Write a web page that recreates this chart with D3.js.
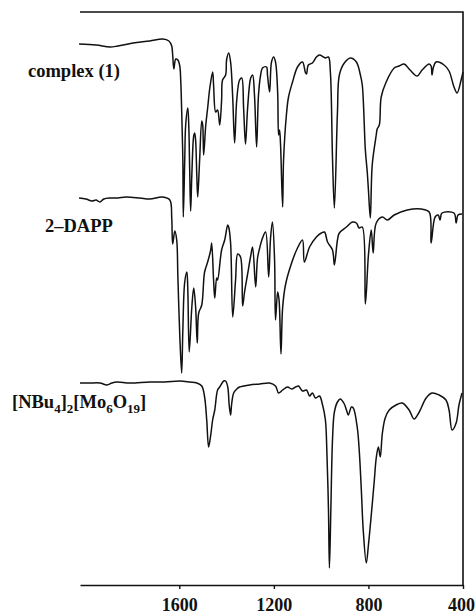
<!DOCTYPE html>
<html>
<head>
<meta charset="utf-8">
<script src="https://cdn.jsdelivr.net/npm/d3@7"></script>
<style>
  body { margin: 0; background: #fff; }
  svg { display: block; }
</style>
</head>
<body>
<svg id="svg"></svg>
<script>
const W = 476, H = 615;

// [wavenumber cm-1, trace height above the bottom axis (arb. units)]
const complexPts = [
  [2024,541],[1952,540],[1893,538],[1860,539],[1796,542],[1725,544],[1670,546],[1644,544],
  [1632,539],[1628,530],[1623,516],[1615,526],[1606,525],[1598,519],[1594,505],[1590,475],
  [1585,425],[1583,368],[1577,425],[1573,460],[1564,477],[1560,460],[1556,415],[1552,374],
  [1547,410],[1539,449],[1535,452],[1531,445],[1526,410],[1522,388],[1514,425],[1505,464],
  [1501,460],[1497,430],[1488,460],[1480,477],[1471,497],[1459,513],[1455,500],[1446,473],
  [1438,475],[1429,460],[1421,485],[1417,505],[1404,510],[1400,525],[1391,532],[1383,523],
  [1374,487],[1366,442],[1357,485],[1345,505],[1336,507],[1328,477],[1320,441],[1311,477],
  [1298,507],[1290,510],[1282,490],[1273,438],[1265,490],[1256,510],[1248,517],[1231,518],
  [1227,510],[1218,493],[1210,523],[1201,528],[1193,523],[1184,493],[1180,450],[1176,455],
  [1172,442],[1163,378],[1159,425],[1147,470],[1138,488],[1121,503],[1100,518],[1079,523],
  [1066,512],[1062,511],[1054,520],[1037,522],[1020,528],[1007,530],[990,528],[982,527],
  [969,528],[961,513],[952,427],[944,377],[931,473],[923,510],[902,522],[876,527],
  [851,523],[834,510],[826,500],[813,435],[805,413],[800,395],[792,367],[784,420],
  [767,450],[763,456],[754,460],[746,488],[725,503],[691,517],[670,519],[649,521],
  [624,515],[594,509],[573,515],[543,521],[535,519],[531,510],[526,517],[514,523],
  [480,520],[459,514],[438,498],[425,492],[408,505],[400,513]
];

const dappPts = [
  [2024,387],[1995,386],[1969,384],[1952,385],[1936,383],[1919,386],[1893,387],[1860,387],
  [1826,388],[1767,387],[1725,386],[1670,388],[1640,385],[1632,367],[1628,341],[1619,354],
  [1611,345],[1606,308],[1598,250],[1590,212],[1585,255],[1577,303],[1568,313],[1564,295],
  [1558,233],[1547,278],[1539,297],[1531,278],[1524,242],[1518,272],[1505,280],[1493,313],
  [1480,323],[1467,335],[1463,342],[1455,305],[1450,287],[1442,307],[1438,305],[1421,335],
  [1408,345],[1395,360],[1391,358],[1383,342],[1374,268],[1362,305],[1353,331],[1341,328],
  [1332,279],[1324,293],[1311,311],[1298,329],[1290,338],[1277,298],[1269,327],[1260,337],
  [1248,347],[1235,353],[1222,308],[1214,347],[1206,363],[1197,325],[1193,265],[1184,293],
  [1178,285],[1170,231],[1163,277],[1151,300],[1125,322],[1100,337],[1079,345],[1071,323],
  [1049,338],[1020,348],[999,352],[986,353],[973,343],[952,335],[944,320],[931,345],
  [923,352],[893,358],[868,363],[851,362],[839,357],[826,358],[813,281],[800,330],
  [788,355],[780,332],[767,362],[741,368],[720,365],[691,370],[636,375],[577,376],
  [543,373],[535,342],[518,368],[505,370],[497,365],[489,372],[438,372],[429,362],
  [421,370],[404,371]
];

const moPts = [
  [2020,202],[1978,202],[1936,202],[1906,200],[1885,202],[1864,203],[1809,202],[1725,203],
  [1661,203],[1598,204],[1556,203],[1526,202],[1505,199],[1493,188],[1484,165],[1476,138],
  [1467,150],[1459,165],[1450,175],[1438,195],[1429,198],[1412,204],[1404,204],[1395,198],
  [1389,180],[1383,170],[1379,180],[1370,192],[1357,196],[1345,198],[1303,200],[1260,201],
  [1218,202],[1193,199],[1180,192],[1163,195],[1142,198],[1125,196],[1108,198],[1096,199],
  [1079,194],[1062,195],[1049,189],[1037,192],[1024,187],[1007,189],[995,181],[982,165],
  [976,135],[969,75],[965,17],[959,75],[952,145],[944,173],[931,183],[919,186],
  [902,181],[893,175],[885,170],[872,178],[864,177],[847,157],[839,135],[830,95],
  [822,55],[809,22],[800,40],[788,70],[775,105],[767,127],[758,138],[750,128],
  [741,152],[729,167],[712,175],[683,180],[657,182],[628,175],[607,166],[585,173],
  [556,187],[531,192],[501,190],[472,185],[459,175],[446,155],[429,162],[417,180],
  [404,192]
];

const xTicks = [1600, 1200, 800, 400];

// label text pieces: [text, isSubscript]
const complexLabel = [["complex (1)", 0]];
const dappLabel = [["2–DAPP", 0]];
const moLabel = [["[NBu", 0], ["4", 1], ["]", 0], ["2", 1], ["[Mo", 0], ["6", 1], ["O", 0], ["19", 1], ["]", 0]];

document.addEventListener("DOMContentLoaded", function () {
    const svg = d3.select("#svg").attr("width", W).attr("height", H);
    const font = "'Liberation Serif', 'Times New Roman', serif";

    const x = d3.scaleLinear().domain([2020, 400]).range([80, 463]);
    const y = d3.scaleLinear().domain([0, 573]).range([585, 12]);

    const line = d3.line()
        .x(d => x(d[0]))
        .y(d => y(d[1]))
        .curve(d3.curveCatmullRom.alpha(0.5));

    // frame: top and right edges
    svg.append("path")
        .attr("d", `M${x(2020)},${y(573)}H${x(400)}V${y(0)}`)
        .attr("fill", "none")
        .attr("stroke", "#111")
        .attr("stroke-width", 1.6);

    const axis = svg.append("g")
        .attr("transform", `translate(0,${y(0)})`)
        .call(d3.axisBottom(x)
            .tickValues(xTicks)
            .tickFormat(d3.format("d"))
            .tickSize(4)
            .tickSizeOuter(0)
            .tickPadding(9));
    axis.select(".domain").attr("stroke", "#111").attr("stroke-width", 1.6);
    axis.selectAll(".tick line").attr("stroke", "#111").attr("stroke-width", 1.4);
    axis.selectAll(".tick text")
        .attr("fill", "#111")
        .attr("dx", d => d === 400 ? -2 : 0)
        .style("font-family", font)
        .style("font-weight", "bold")
        .style("font-size", "18px");

    [complexPts, dappPts, moPts].forEach(function (pts) {
        svg.append("path")
            .attr("d", line(pts))
            .attr("fill", "none")
            .attr("stroke", "#111")
            .attr("stroke-width", 1.5)
            .attr("stroke-linejoin", "round");
    });

    function label(parts, lx, ly) {
        const t = svg.append("text")
            .attr("x", lx).attr("y", ly)
            .attr("fill", "#111")
            .style("font-family", font)
            .style("font-weight", "bold")
            .style("font-size", "18.5px");
        let prevSub = 0;
        parts.forEach(function (p) {
            const s = t.append("tspan").text(p[0]);
            if (p[1] !== prevSub) s.attr("dy", p[1] ? 5 : -5);
            if (p[1]) s.style("font-size", "13px");
            prevSub = p[1];
        });
    }

    label(complexLabel, 28, 77);
    label(dappLabel, 45, 232);
    label(moLabel, 12, 408);
});
</script>
</body>
</html>
